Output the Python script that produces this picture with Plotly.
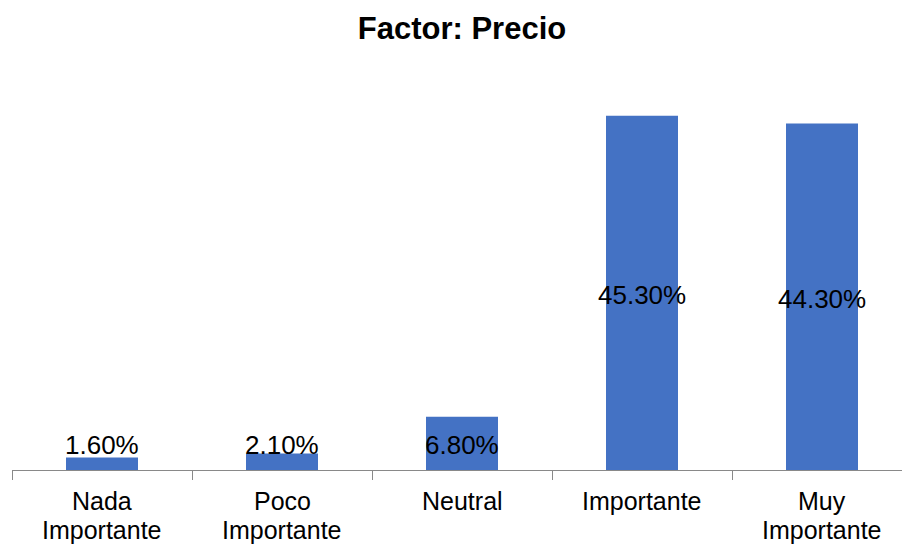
import plotly.graph_objects as go

# Survey results for the "Precio" factor
categories = ["Nada<br>Importante", "Poco<br>Importante", "Neutral", "Importante", "Muy<br>Importante"]
percentages = [1.6, 2.1, 6.8, 45.3, 44.3]

BAR_COLOR = "#4472C4"
AXIS_COLOR = "#898989"
FONT = "Arial, Liberation Sans, sans-serif"
LABEL_FLOOR = 3.4  # small bars keep their label raised to this level

x_pos = list(range(len(categories)))

fig = go.Figure(
    go.Bar(
        x=x_pos,
        y=percentages,
        width=0.4,
        marker=dict(color=BAR_COLOR, line=dict(width=0)),
        hoverinfo="skip",
    )
)

# value labels, centred in each bar
for xi, v in zip(x_pos, percentages):
    fig.add_annotation(
        x=xi, y=max(v / 2, LABEL_FLOOR), xref="x", yref="y",
        text=f"{v:.2f}%", showarrow=False,
        font=dict(family=FONT, size=26, color="black"),
        xanchor="center", yanchor="middle", yshift=-2,
    )

# category labels, one annotation per text line for tight line spacing
for xi, cat in zip(x_pos, categories):
    for k, line in enumerate(cat.split("<br>")):
        fig.add_annotation(
            x=xi, y=0, xref="x", yref="paper",
            text=line, showarrow=False,
            font=dict(family=FONT, size=25, color="black"),
            xanchor="center", yanchor="top",
            yshift=-15 - 29 * k,
        )

fig.update_layout(
    width=902, height=548,
    margin=dict(l=12, r=0, t=79, b=78),
    paper_bgcolor="white", plot_bgcolor="white",
    showlegend=False,
    title=dict(
        text="<b>Factor: Precio</b>",
        x=462 / 902, xref="container", xanchor="center",
        y=1 - 28 / 548, yref="container", yanchor="middle",
        font=dict(family=FONT, size=31, color="black"),
    ),
    xaxis=dict(
        range=[-0.5, 4.5 - 10 / 180],
        tickmode="array",
        tickvals=[i - 0.5 for i in range(len(categories) + 1)],
        ticktext=[""] * (len(categories) + 1),
        ticks="outside", ticklen=9, tickcolor=AXIS_COLOR, tickwidth=1,
        showline=True, linecolor=AXIS_COLOR, linewidth=1,
        showgrid=False, zeroline=False, fixedrange=True,
    ),
    yaxis=dict(
        range=[0, 50],
        visible=False, showgrid=False, zeroline=False, fixedrange=True,
    ),
)

fig.write_html("out.html")
